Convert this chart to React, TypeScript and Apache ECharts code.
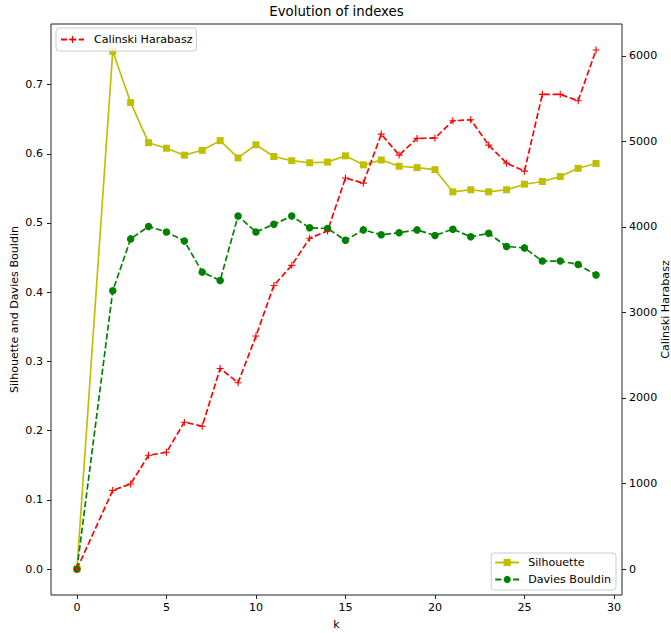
import React, { useEffect, useRef } from "react";
import * as echarts from "echarts";

const kValues = [0, 2, 3, 4, 5, 6, 7, 8, 9, 10, 11, 12, 13, 14, 15, 16, 17, 18, 19, 20, 21, 22, 23, 24, 25, 26, 27, 28, 29];
const silhouette = [0.0, 0.748, 0.674, 0.616, 0.608, 0.598, 0.605, 0.619, 0.594, 0.613, 0.596, 0.59, 0.587, 0.588, 0.597, 0.584, 0.591, 0.582, 0.58, 0.577, 0.545, 0.548, 0.545, 0.548, 0.556, 0.56, 0.567, 0.579, 0.586];
const daviesBouldin = [0.0, 0.402, 0.477, 0.495, 0.487, 0.474, 0.429, 0.417, 0.51, 0.487, 0.498, 0.51, 0.493, 0.492, 0.475, 0.49, 0.483, 0.486, 0.49, 0.482, 0.491, 0.48, 0.485, 0.466, 0.464, 0.445, 0.445, 0.44, 0.425];
const calinski = [0, 920, 995, 1330, 1365, 1717, 1670, 2345, 2178, 2724, 3315, 3551, 3868, 3953, 4572, 4512, 5085, 4840, 5035, 5039, 5241, 5253, 4957, 4746, 4652, 5550, 5550, 5475, 6069];

const xTicks = [0, 5, 10, 15, 20, 25, 30];
const leftTicks = [0, 0.1, 0.2, 0.3, 0.4, 0.5, 0.6, 0.7];
const rightTicks = [0, 1000, 2000, 3000, 4000, 5000, 6000];

const FONT = "DejaVu Sans";
const FS = 11.1;
const DASH = [6.2, 2.7];
const PLUS = "path://M4.2,0H5.8V4.2H10V5.8H5.8V10H4.2V5.8H0V4.2H4.2Z";

export default function App() {
  const ref = useRef<HTMLDivElement>(null);
  useEffect(() => {
    if (!ref.current) return;
    const chart = echarts.init(ref.current, null, { renderer: "svg" });
    const pairs = (ys: number[]) => kValues.map((k, i) => [k, ys[i]]);
    const tickStyle = { show: true, length: 4, inside: false, lineStyle: { color: "#222", width: 1 } };
    const labelStyle = { color: "#000", fontSize: FS, fontFamily: FONT };
    const calMax = Math.max(...calinski);
    chart.setOption({
      animation: false,
      backgroundColor: "#fff",
      textStyle: { fontFamily: FONT },
      title: {
        text: "Evolution of indexes",
        left: 336.5,
        textAlign: "center",
        top: 5,
        padding: 0,
        textStyle: { fontSize: 13.3, fontWeight: "normal", color: "#000", fontFamily: FONT },
      },
      grid: {
        left: 51, right: 49, top: 24, bottom: 38,
        outerBoundsMode: "none",
        containLabel: false,
        show: true, borderColor: "#222", borderWidth: 1, backgroundColor: "transparent",
      },
      legend: [
        {
          data: ["Calinski Harabasz"],
          left: 56,
          top: 28,
          padding: [6, 4, 6, 4],
          itemWidth: 23,
          itemHeight: 9,
          backgroundColor: "rgba(255,255,255,0.8)",
          borderColor: "#cccccc",
          borderWidth: 1,
          borderRadius: 3,
          textStyle: { color: "#000", fontSize: FS, fontFamily: FONT, padding: [0, 0, 0, 5] },
          z: 10,
        },
        {
          data: ["Silhouette", "Davies Bouldin"],
          orient: "vertical",
          right: 55,
          bottom: 43,
          padding: [4, 5, 5, 3],
          itemGap: 6,
          itemWidth: 24,
          itemHeight: 9,
          backgroundColor: "rgba(255,255,255,0.8)",
          borderColor: "#cccccc",
          borderWidth: 1,
          borderRadius: 3,
          textStyle: { color: "#000", fontSize: FS, fontFamily: FONT, padding: [0, 0, 0, 4] },
        },
      ],
      xAxis: {
        type: "value",
        min: -1.45,
        max: 30.45,
        name: "k",
        nameLocation: "middle",
        nameGap: 24,
        nameMoveOverlap: false,
        nameTextStyle: labelStyle,
        axisLine: { show: false, onZero: false },
        axisTick: { ...tickStyle, customValues: xTicks },
        axisLabel: { ...labelStyle, margin: 7, customValues: xTicks },
        splitLine: { show: false },
      },
      yAxis: [
        {
          type: "value",
          position: "left",
          min: -0.0375,
          max: 0.7875,
          name: "Silhouette and Davies Bouldin",
          nameLocation: "middle",
          nameRotate: 90,
          nameGap: 31,
          nameMoveOverlap: false,
          nameTextStyle: labelStyle,
          axisLine: { show: false, onZero: false },
          axisTick: { ...tickStyle, customValues: leftTicks },
          axisLabel: { ...labelStyle, margin: 8, customValues: leftTicks, formatter: (v: number) => v.toFixed(1) },
          splitLine: { show: false },
        },
        {
          type: "value",
          position: "right",
          min: -0.05 * calMax,
          max: 1.05 * calMax,
          name: "Calinski Harabasz",
          nameLocation: "middle",
          nameRotate: 90,
          nameGap: 38,
          nameMoveOverlap: false,
          nameTextStyle: labelStyle,
          axisLine: { show: false, onZero: false },
          axisTick: { ...tickStyle, customValues: rightTicks },
          axisLabel: { ...labelStyle, margin: 7, customValues: rightTicks, formatter: (v: number) => String(Math.round(v)) },
          splitLine: { show: false },
        },
      ],
      series: [
        {
          name: "Silhouette",
          type: "line",
          yAxisIndex: 0,
          data: pairs(silhouette),
          symbol: "rect",
          symbolSize: 7,
          showAllSymbol: true,
          itemStyle: { color: "#bfbf00" },
          lineStyle: { color: "#bfbf00", width: 1.67 },
        },
        {
          name: "Davies Bouldin",
          type: "line",
          yAxisIndex: 0,
          data: pairs(daviesBouldin),
          symbol: "circle",
          symbolSize: 7.5,
          showAllSymbol: true,
          itemStyle: { color: "#008000" },
          lineStyle: { color: "#008000", width: 1.67, type: DASH },
        },
        {
          name: "Calinski Harabasz",
          type: "line",
          yAxisIndex: 1,
          data: pairs(calinski),
          symbol: PLUS,
          symbolSize: 7,
          showAllSymbol: true,
          itemStyle: { color: "#ff0000" },
          lineStyle: { color: "#ff0000", width: 1.67, type: DASH },
        },
      ],
    });
    return () => chart.dispose();
  }, []);
  return <div ref={ref} style={{ position: "absolute", left: 0, top: 0, width: 671, height: 633 }} />;
}
